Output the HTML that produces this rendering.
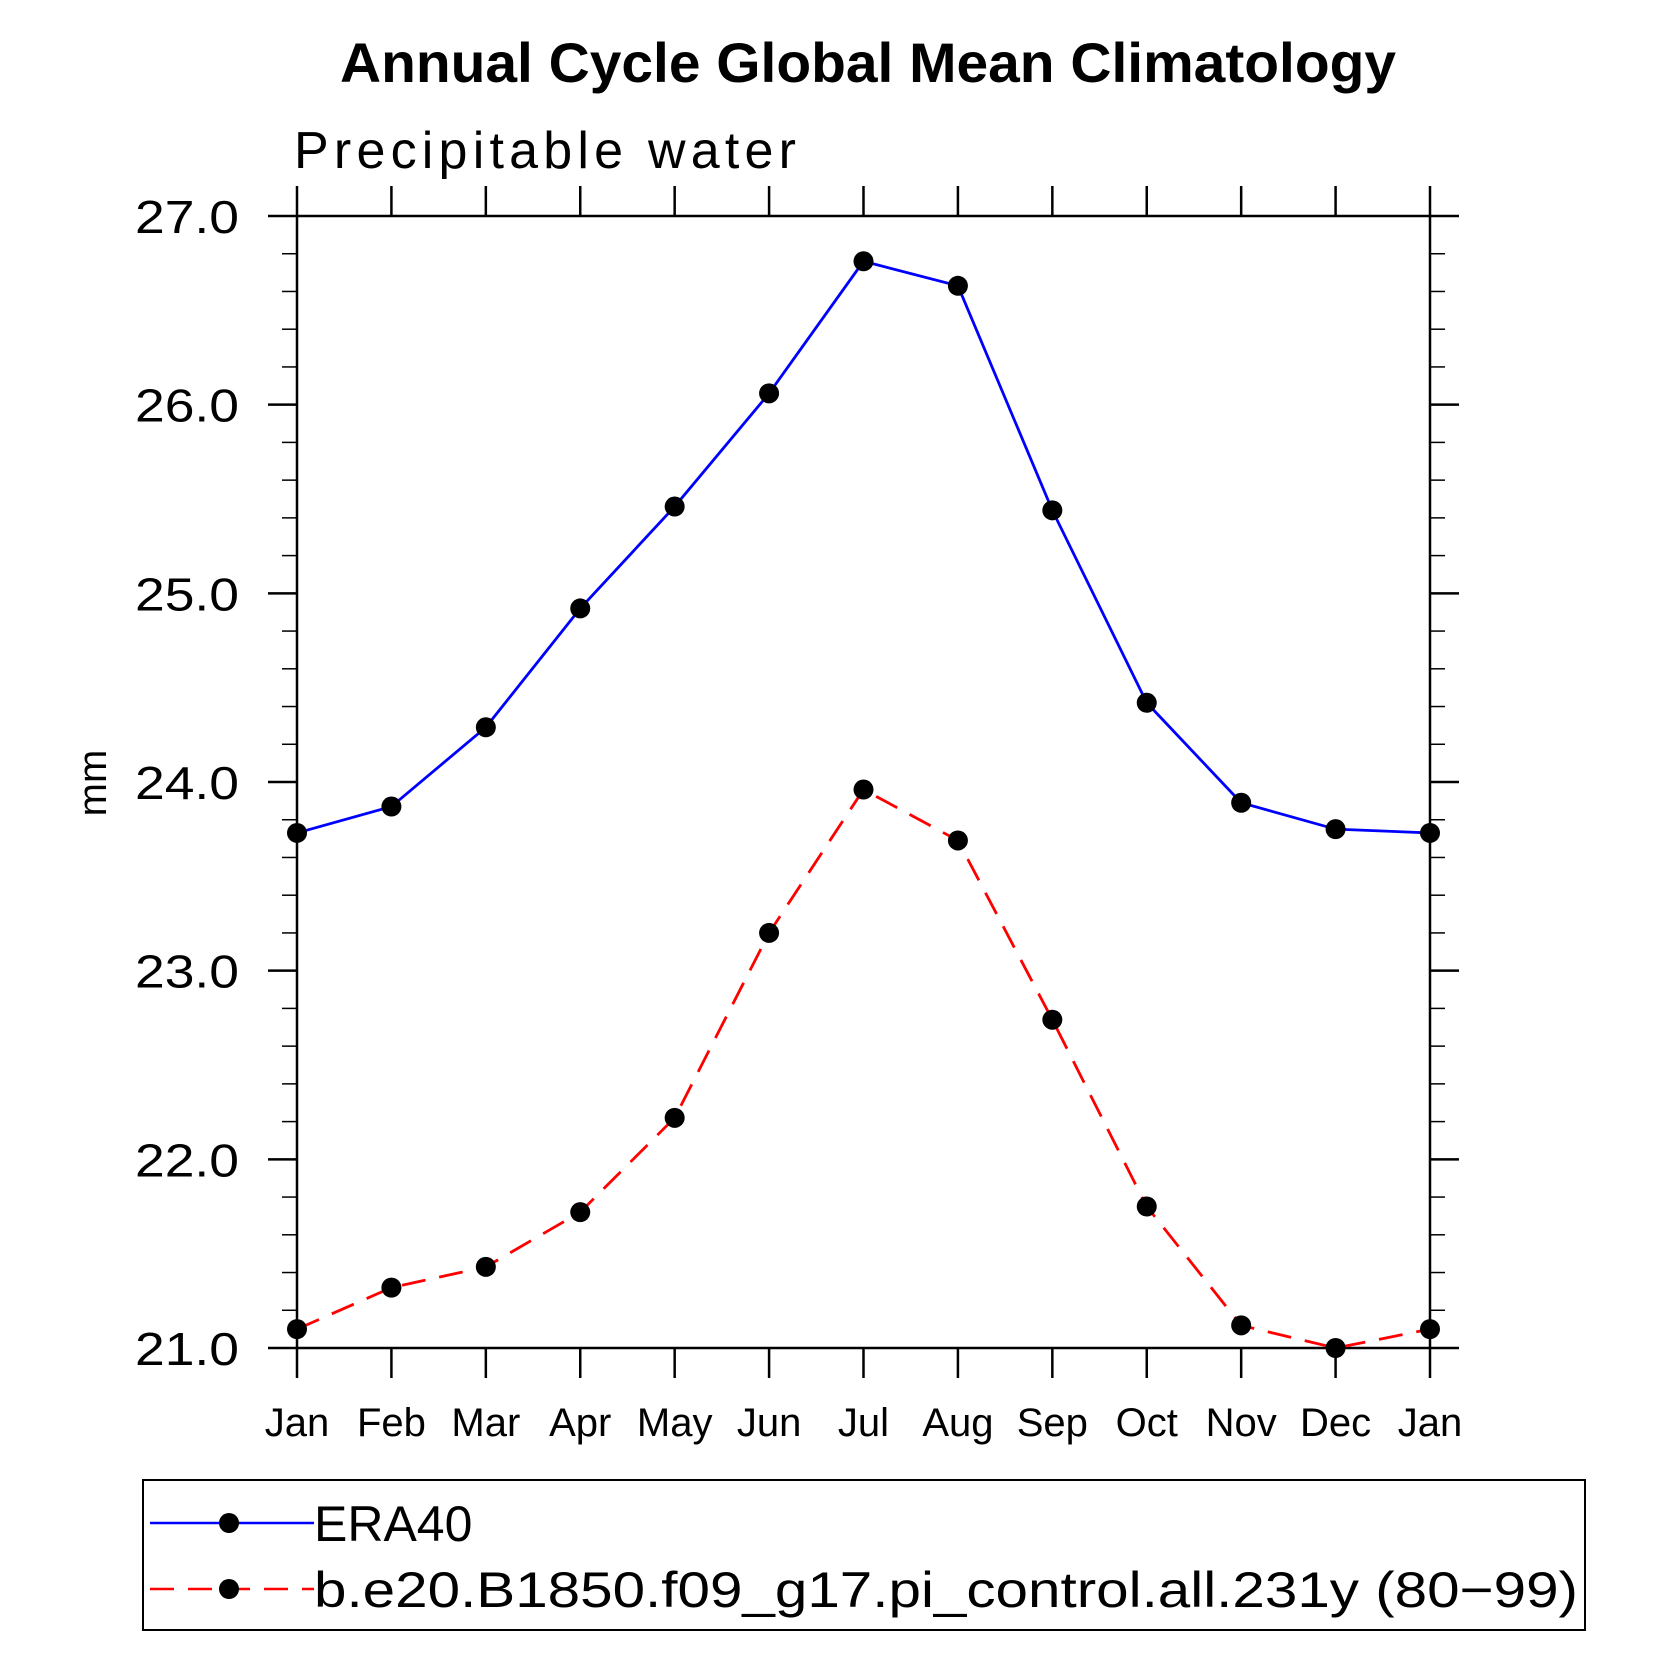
<!DOCTYPE html>
<html><head><meta charset="utf-8"><style>body{margin:0;background:#fff}svg{display:block}</style></head>
<body>
<svg id="chart" width="1669" height="1669" viewBox="0 0 1669 1669" xmlns="http://www.w3.org/2000/svg" font-family="Liberation Sans, sans-serif">
<text x="868" y="82" text-anchor="middle" font-size="56" font-weight="bold" textLength="1056" lengthAdjust="spacingAndGlyphs">Annual Cycle Global Mean Climatology</text>
<text x="294" y="168" font-size="52" font-weight="300" textLength="502">Precipitable water</text>
<text transform="translate(106,783) rotate(-90)" text-anchor="middle" font-size="40">mm</text>
<g id="axes"></g>
<g id="series"></g>
<rect x="143" y="1480" width="1442" height="150" fill="none" stroke="#000" stroke-width="2"/>
<g>
<line x1="150" y1="1523" x2="314" y2="1523" stroke="#0000ff" stroke-width="2.5"/>
<circle cx="229" cy="1523" r="10"/>
<text x="314" y="1541" font-size="50">ERA40</text>
</g>
<g>
<line x1="150" y1="1589" x2="314" y2="1589" stroke="#ff0000" stroke-width="2.5" stroke-dasharray="24 14"/>
<circle cx="229" cy="1589" r="10"/>
<text x="314" y="1607" font-size="50" textLength="1264" lengthAdjust="spacingAndGlyphs">b.e20.B1850.f09_g17.pi_control.all.231y (80−99)</text>
</g>
</svg>
<script>
const months = ["Jan","Feb","Mar","Apr","May","Jun","Jul","Aug","Sep","Oct","Nov","Dec","Jan"];
const era40 = [23.73,23.87,24.29,24.92,25.46,26.06,26.76,26.63,25.44,24.42,23.89,23.75,23.73];
const model = [21.10,21.32,21.43,21.72,22.22,23.20,23.96,23.69,22.74,21.75,21.12,21.00,21.10];
const yTicks = [21,22,23,24,25,26,27];
const yTickLabels = ["21.0","22.0","23.0","24.0","25.0","26.0","27.0"];

const NS="http://www.w3.org/2000/svg";
const L=297,R=1430,T=216,B=1348,YMIN=21,YMAX=27;
const xs=i=>L+(R-L)*i/(months.length-1);
const ys=v=>B-(v-YMIN)/(YMAX-YMIN)*(B-T);
function mk(tag,attrs,parent){const e=document.createElementNS(NS,tag);for(const k in attrs)e.setAttribute(k,attrs[k]);parent.appendChild(e);return e;}
const axes=document.getElementById('axes');
const frame=mk('rect',{x:L,y:T,width:R-L,height:B-T,fill:'none',stroke:'#000','stroke-width':2.5},axes);


months.forEach((m,i)=>{
  const x=xs(i);
  const t1=mk('line',{x1:x,y1:B,x2:x,y2:B+30,stroke:'#000','stroke-width':2.5},axes);
  
  
  const t2=mk('line',{x1:x,y1:T,x2:x,y2:T-30,stroke:'#000','stroke-width':2.5},axes);
  
  
  const lb=mk('text',{x:x,y:1436,'text-anchor':'middle','font-size':40,'font-weight':300},axes);
  lb.textContent=m;
  
  
});
for(let v=YMIN;v<=YMAX+1e-9;v+=0.2){
  const y=ys(v);
  const major=Math.abs(v-Math.round(v))<1e-6;
  const len=major?29:15;
  const a=mk('line',{x1:L-len,y1:y,x2:L,y2:y,stroke:'#000','stroke-width':major?2.5:1.5},axes);
  
  
  const b=mk('line',{x1:R,y1:y,x2:R+len,y2:y,stroke:'#000','stroke-width':major?2.5:1.5},axes);
  
  
}
yTicks.forEach((v,i)=>{
  const lb=mk('text',{x:239,y:ys(v)+17,'text-anchor':'end','font-size':46,'font-weight':300,textLength:104,lengthAdjust:'spacingAndGlyphs'},axes);
  lb.textContent=yTickLabels[i];
  
  
});
const series=document.getElementById('series');
function draw(vals,color,dash,name){
  const pts=vals.map((v,i)=>xs(i)+','+ys(v)).join(' ');
  const pl=mk('polyline',{points:pts,fill:'none',stroke:color,'stroke-width':2.8},series);
  if(dash)pl.setAttribute('stroke-dasharray',dash);
  
  
  vals.forEach((v,i)=>{
    const c=mk('circle',{cx:xs(i),cy:ys(v),r:10,fill:'#000'},series);
    
    
  });
}
draw(era40,'#0000ff',null,'era40');
draw(model,'#ff0000','24 14','model');
</script>
</body></html>
